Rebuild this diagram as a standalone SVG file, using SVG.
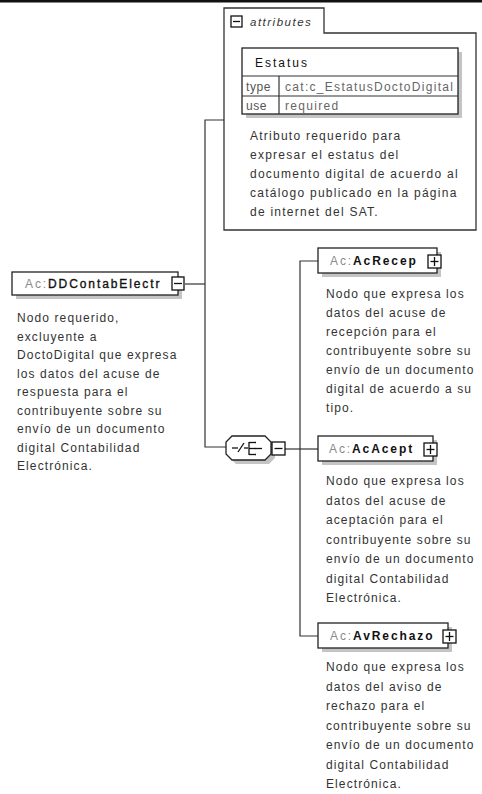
<svg xmlns="http://www.w3.org/2000/svg" width="482" height="794" viewBox="0 0 482 794">
<defs>
<style>
.t{font-family:"Liberation Sans",Arial,sans-serif;font-size:12px;fill:#222;letter-spacing:1.3px}
.d{font-family:"Liberation Sans",Arial,sans-serif;font-size:12px;fill:#333;letter-spacing:1.1px}
.n{font-family:"Liberation Sans",Arial,sans-serif;font-size:12px;letter-spacing:1.9px}
.ns{fill:#8a8a8a;font-weight:normal}
.nm{font-weight:bold;fill:#111}
.box{fill:#fff;stroke:#222;stroke-width:1.3}
.sh{fill:#c4c4c4}
.btn{fill:#fff;stroke:#111;stroke-width:1.3}
.ln{fill:none;stroke:#333;stroke-width:1.2}
.ic{fill:none;stroke:#111;stroke-width:1.3}
</style>
</defs>
<rect x="0" y="0" width="482" height="2.5" fill="#111"/>
<g id="connectors">
<polyline class="ln" points="185,284 205,284"/>
<polyline class="ln" points="224,120 205,120 205,447 226,447"/>
<polyline class="ln" points="285,449 300,449"/>
<polyline class="ln" points="318,261 300,261 300,636 318,636"/>
<polyline class="ln" points="300,449 318,449"/>
</g>
<g id="attributes">
<path d="M224,230 V8 H324 V33 H476 V230 Z" fill="#fff" stroke="#333" stroke-width="1.3"/>
<rect x="231" y="16" width="11" height="11" class="btn"/>
<line x1="233" y1="21.5" x2="240" y2="21.5" class="ic"/>
<text x="250" y="26" class="t" style="font-style:italic;font-size:11.5px;letter-spacing:1.5px;fill:#333">attributes</text>
<g id="attr-Estatus">
<rect x="246" y="52" width="216" height="66" class="sh"/>
<rect x="242" y="48" width="216" height="66" class="box"/>
<line x1="242" y1="76" x2="458" y2="76" class="ln"/>
<line x1="242" y1="96" x2="458" y2="96" class="ln"/>
<line x1="279" y1="76" x2="279" y2="114" class="ln"/>
<text x="255" y="67" class="t" style="fill:#111;letter-spacing:2px">Estatus</text>
<text x="246" y="91" class="t" style="fill:#555;letter-spacing:0.6px">type</text>
<text x="285" y="91" class="t" style="fill:#666">cat:c_EstatusDoctoDigital</text>
<text x="246" y="110" class="t" style="fill:#555;letter-spacing:0.6px">use</text>
<text x="285" y="110" class="t" style="fill:#666">required</text>
</g>
<text class="d" style="letter-spacing:1.25px"><tspan x="250" y="140">Atributo requerido para</tspan><tspan x="250" y="159">expresar el estatus del</tspan><tspan x="250" y="178">documento digital de acuerdo al</tspan><tspan x="250" y="197">catálogo publicado en la página</tspan><tspan x="250" y="216">de internet del SAT.</tspan></text>
</g>
<g id="DDContabElectr">
<rect x="16" y="276" width="166" height="23" class="sh"/>
<rect x="12" y="272" width="166" height="23" class="box"/>
<text x="25" y="288" class="n"><tspan class="ns">Ac:</tspan><tspan fill="#111" stroke="#111" stroke-width="0.35">DDContabElectr</tspan></text>
<rect x="172" y="277" width="12" height="13" class="btn"/>
<line x1="174" y1="283.5" x2="182" y2="283.5" class="ic"/>
<text class="d"><tspan x="17" y="322">Nodo requerido,</tspan><tspan x="17" y="340.5">excluyente a</tspan><tspan x="17" y="359">DoctoDigital que expresa</tspan><tspan x="17" y="377.5">los datos del acuse de</tspan><tspan x="17" y="396">respuesta para el</tspan><tspan x="17" y="414.5">contribuyente sobre su</tspan><tspan x="17" y="433">envío de un documento</tspan><tspan x="17" y="451.5">digital Contabilidad</tspan><tspan x="17" y="470">Electrónica.</tspan></text>
</g>
<g id="choice">
<polygon points="236,440 269,440 275,446 275,458 269,464 236,464 230,458 230,446" class="sh"/>
<polygon points="232,436 265,436 271,442 271,454 265,460 232,460 226,454 226,442" class="box"/>
<line x1="232" y1="448" x2="238" y2="448" class="ic"/>
<line x1="238" y1="452" x2="244" y2="443" class="ic"/>
<line x1="244" y1="448" x2="248" y2="448" class="ic"/>
<line x1="249" y1="442" x2="249" y2="455" class="ic"/>
<line x1="249" y1="442.5" x2="256" y2="442.5" class="ic"/>
<line x1="249" y1="448.5" x2="256" y2="448.5" class="ic"/>
<line x1="249" y1="454.5" x2="256" y2="454.5" class="ic"/>
<line x1="256" y1="448.5" x2="262" y2="448.5" class="ic"/>
<rect x="272" y="442" width="13" height="13" class="btn"/>
<line x1="274.5" y1="448.5" x2="282.5" y2="448.5" class="ic"/>
</g>
<g id="AcRecep">
<rect x="322" y="252" width="119" height="25" class="sh"/>
<rect x="318" y="248" width="119" height="25" class="box"/>
<text x="330" y="265" class="n"><tspan class="ns">Ac:</tspan><tspan class="nm">AcRecep</tspan></text>
<rect x="428" y="255" width="13" height="13" class="btn"/>
<line x1="430.5" y1="261.5" x2="438.5" y2="261.5" class="ic"/>
<line x1="434.5" y1="257" x2="434.5" y2="266" class="ic"/>
<text class="d"><tspan x="326" y="298">Nodo que expresa los</tspan><tspan x="326" y="317">datos del acuse de</tspan><tspan x="326" y="336">recepción para el</tspan><tspan x="326" y="355">contribuyente sobre su</tspan><tspan x="326" y="374">envío de un documento</tspan><tspan x="326" y="393">digital de acuerdo a su</tspan><tspan x="326" y="412">tipo.</tspan></text>
</g>
<g id="AcAcept">
<rect x="322" y="440" width="115" height="25" class="sh"/>
<rect x="318" y="436" width="115" height="25" class="box"/>
<text x="329" y="453" class="n"><tspan class="ns">Ac:</tspan><tspan class="nm">AcAcept</tspan></text>
<rect x="424" y="443" width="13" height="13" class="btn"/>
<line x1="426.5" y1="449.5" x2="434.5" y2="449.5" class="ic"/>
<line x1="430.5" y1="445" x2="430.5" y2="454" class="ic"/>
<text class="d"><tspan x="326" y="485">Nodo que expresa los</tspan><tspan x="326" y="504.5">datos del acuse de</tspan><tspan x="326" y="524">aceptación para el</tspan><tspan x="326" y="543.5">contribuyente sobre su</tspan><tspan x="326" y="563">envío de un documento</tspan><tspan x="326" y="582.5">digital Contabilidad</tspan><tspan x="326" y="602">Electrónica.</tspan></text>
</g>
<g id="AvRechazo">
<rect x="322" y="627" width="130" height="25" class="sh"/>
<rect x="318" y="623" width="130" height="25" class="box"/>
<text x="330" y="640" class="n"><tspan class="ns">Ac:</tspan><tspan class="nm">AvRechazo</tspan></text>
<rect x="443" y="630" width="13" height="13" class="btn"/>
<line x1="445.5" y1="636.5" x2="453.5" y2="636.5" class="ic"/>
<line x1="449.5" y1="632" x2="449.5" y2="641" class="ic"/>
<text class="d"><tspan x="326" y="671">Nodo que expresa los</tspan><tspan x="326" y="690.5">datos del aviso de</tspan><tspan x="326" y="710">rechazo para el</tspan><tspan x="326" y="729.5">contribuyente sobre su</tspan><tspan x="326" y="749">envío de un documento</tspan><tspan x="326" y="768.5">digital Contabilidad</tspan><tspan x="326" y="788">Electrónica.</tspan></text>
</g>
</svg>
